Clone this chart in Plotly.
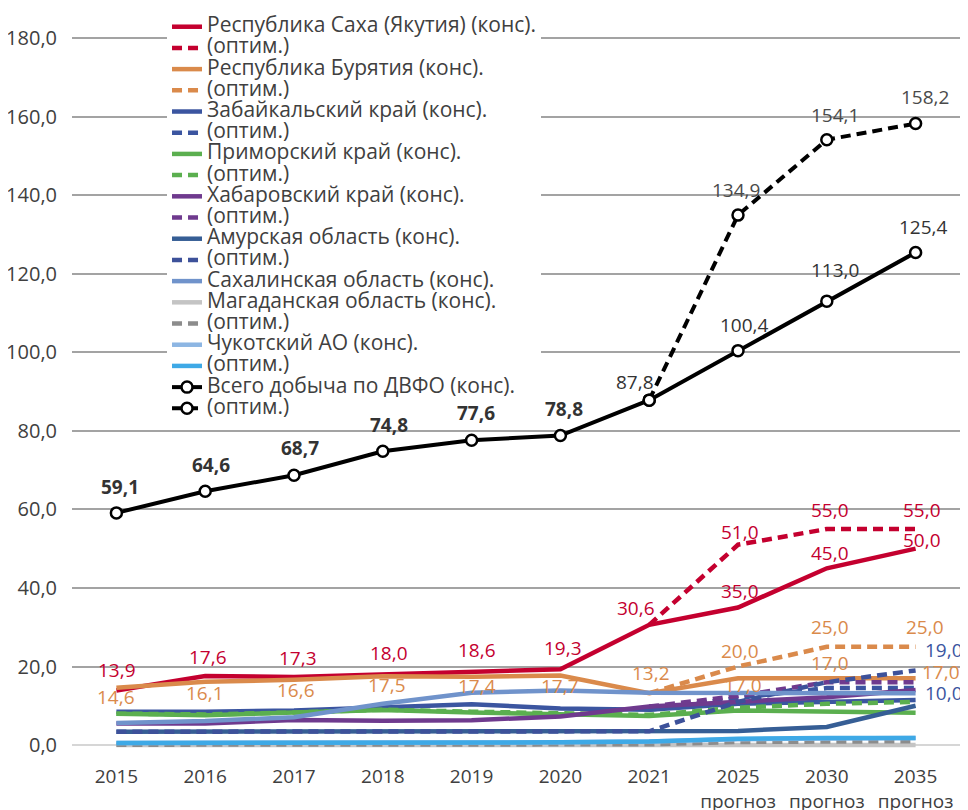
import plotly.graph_objects as go

years = ["2015", "2016", "2017", "2018", "2019", "2020", "2021", "2025", "2030", "2035"]
year_ticks = ["2015", "2016", "2017", "2018", "2019", "2020", "2021",
              "2025<br>прогноз", "2030<br>прогноз", "2035<br>прогноз"]
y_ticks = [0, 20, 40, 60, 80, 100, 120, 140, 160, 180]
y_ticktext = ["0,0", "20,0", "40,0", "60,0", "80,0", "100,0", "120,0", "140,0", "160,0", "180,0"]

N = None
sakha_cons = [13.9, 17.6, 17.3, 18.0, 18.6, 19.3, 30.6, 35.0, 45.0, 50.0]
sakha_opt = [N, N, N, N, N, N, 30.6, 51.0, 55.0, 55.0]
buryat_cons = [14.6, 16.1, 16.6, 17.5, 17.4, 17.7, 13.2, 17.0, 17.0, 17.0]
buryat_opt = [N, N, N, N, N, N, 13.2, 20.0, 25.0, 25.0]
zabaik_cons = [8.5, 8.5, 8.8, 9.6, 10.4, 9.3, 9.0, 10.5, 11.0, 11.5]
zabaik_opt = [N, N, N, N, N, N, 9.0, 12.0, 14.5, 14.5]
primor_cons = [8.0, 7.6, 8.3, 8.9, 8.3, 7.8, 7.4, 8.8, 8.5, 8.2]
primor_opt = [8.0, 7.8, 8.3, 9.0, 8.5, 8.0, 7.7, 9.5, 10.5, 11.0]
khab_cons = [5.5, 5.5, 6.4, 6.2, 6.3, 7.3, 9.8, 11.0, 12.2, 14.0]
khab_opt = [N, N, N, N, N, N, 9.8, 12.5, 16.0, 16.0]
amur_cons = [3.4, 3.4, 3.4, 3.4, 3.4, 3.4, 3.5, 3.6, 4.6, 10.0]
amur_opt = [3.4, 3.4, 3.4, 3.4, 3.4, 3.4, 3.5, 11.0, 16.0, 19.0]
sakhalin_cons = [5.6, 6.1, 7.1, 10.5, 13.3, 13.9, 13.3, 13.2, 13.2, 13.2]
magadan_cons = [0.0, 0.0, 0.0, 0.0, 0.0, 0.0, 0.0, 0.0, 0.0, 0.0]
magadan_opt = [0.1, 0.1, 0.1, 0.1, 0.1, 0.1, 0.2, 0.8, 1.0, 1.0]
chukot_cons = [0.5, 0.5, 0.5, 0.5, 0.6, 0.7, 0.9, 1.5, 1.7, 1.8]
chukot_opt = [0.5, 0.5, 0.5, 0.5, 0.6, 0.7, 0.9, 1.6, 1.8, 1.8]
total_cons = [59.1, 64.6, 68.7, 74.8, 77.6, 78.8, 87.8, 100.4, 113.0, 125.4]
total_opt = [N, N, N, N, N, N, 87.8, 134.9, 154.1, 158.2]

C_RED = "#C4002F"
C_ORANGE = "#DA8A4B"
C_BLUE = "#3B55A0"
C_GREEN = "#5BAF4F"
C_PURPLE = "#6F3A8E"
C_AMUR = "#365E95"
C_AMUR_OPT = "#3D519A"
C_SAKHALIN = "#7093CB"
C_MAG = "#C4C4C4"
C_MAG_OPT = "#8C8C8C"
C_CHUK = "#8DB6E3"
C_CHUK_OPT = "#3EA9E6"
TXT = "#404040"
FONT = "Open Sans, Noto Sans, sans-serif"

OPT = "(оптим.)"
series = [
    ("Республика Саха (Якутия) (конс).", sakha_cons, C_RED, "solid"),
    (OPT, sakha_opt, C_RED, "dash"),
    ("Республика Бурятия (конс).", buryat_cons, C_ORANGE, "solid"),
    (OPT, buryat_opt, C_ORANGE, "dash"),
    ("Забайкальский край (конс).", zabaik_cons, C_BLUE, "solid"),
    (OPT, zabaik_opt, C_BLUE, "dash"),
    ("Приморский край (конс).", primor_cons, C_GREEN, "solid"),
    (OPT, primor_opt, C_GREEN, "dash"),
    ("Хабаровский край (конс).", khab_cons, C_PURPLE, "solid"),
    (OPT, khab_opt, C_PURPLE, "dash"),
    ("Амурская область (конс).", amur_cons, C_AMUR, "solid"),
    (OPT, amur_opt, C_AMUR_OPT, "dash"),
    ("Сахалинская область (конс).", sakhalin_cons, C_SAKHALIN, "solid"),
    ("Магаданская область (конс).", magadan_cons, C_MAG, "solid"),
    (OPT, magadan_opt, C_MAG_OPT, "dash"),
    ("Чукотский АО (конс).", chukot_cons, C_CHUK, "solid"),
    (OPT, chukot_opt, C_CHUK_OPT, "solid"),
]

LEG_SPAN = "<span style='font-size:21px'>{}</span>"

fig = go.Figure()
for name, vals, col, dash in series:
    fig.add_trace(go.Scatter(
        x=years, y=vals, mode="lines", name=LEG_SPAN.format(name),
        line=dict(color=col, width=4.5, dash=dash if dash == "solid" else "10px,6px"),
        connectgaps=False, hoverinfo="skip"))

for name, vals, dash in [("Всего добыча по ДВФО (конс).", total_cons, "solid"),
                         (OPT, total_opt, "10px,6px")]:
    fig.add_trace(go.Scatter(
        x=years, y=vals, mode="lines+markers", name=LEG_SPAN.format(name),
        line=dict(color="black", width=4, dash=dash),
        marker=dict(symbol="circle", size=11, color="white",
                    line=dict(color="black", width=2.5)),
        connectgaps=False, hoverinfo="skip"))


def fmt(v):
    return f"{v:.1f}".replace(".", ",")


annotations = []


def add_labels(vals, idxs, offsets, color, bold_idx=()):
    for i, (dx, dy) in zip(idxs, offsets):
        t = fmt(vals[i])
        if i in bold_idx:
            t = "<b>" + t + "</b>"
        annotations.append(dict(
            x=i, y=vals[i], xref="x", yref="y", text=t, showarrow=False,
            xshift=dx, yshift=dy, font=dict(family=FONT, size=19, color=color)))


add_labels(total_cons, list(range(10)),
           [(4, 26), (6, 26), (6, 27), (6, 26), (4, 27), (4, 27), (-14, 18), (6, 26), (8, 31), (8, 25)],
           "#333333", bold_idx=list(range(6)))
add_labels(total_opt, [7, 8, 9], [(-2, 25), (8, 25), (9, 27)], "#4A4A4A")
add_labels(sakha_cons, list(range(10)),
           [(1, 20), (3, 19), (4, 19), (6, 21), (5, 22), (3, 21), (-13, 17), (2, 17), (3, 15), (6, 9)],
           C_RED)
add_labels(sakha_opt, [7, 8, 9], [(2, 13), (3, 19), (6, 19)], C_RED)
add_labels(buryat_cons, list(range(10)),
           [(0, -9), (0, -11), (2, -10), (4, -9), (5, -9), (0, -10), (2, 20), (5, -7), (3, 15), (25, 6)],
           C_ORANGE)
add_labels(buryat_opt, [7, 8, 9], [(2, 16), (3, 20), (9, 20)], C_ORANGE)
add_labels(amur_opt, [9], [(28, 20)], C_BLUE)
add_labels(amur_cons, [9], [(28, 13)], C_BLUE)

fig.update_layout(
    width=968, height=810,
    margin=dict(l=64, r=16, t=26, b=69, autoexpand=False),
    paper_bgcolor="white", plot_bgcolor="white",
    font=dict(family=FONT, size=19, color=TXT),
    showlegend=True,
    legend=dict(x=0.107, y=1.032, xanchor="left", yanchor="top",
                bgcolor="white", borderwidth=0, maxheight=800,
                font=dict(family=FONT, size=14, color=TXT),
                tracegroupgap=0),
    annotations=annotations,
    xaxis=dict(type="category", range=[-0.5, 9.5], showgrid=False, showline=False,
               zeroline=False, ticks="", tickmode="array", tickvals=years,
               ticktext=year_ticks, ticklabelstandoff=14,
               tickfont=dict(size=19, color=TXT)),
    yaxis=dict(range=[-1, 181], tickmode="array", tickvals=y_ticks, ticktext=y_ticktext,
               showgrid=True, gridcolor="#A3A3A3", gridwidth=2,
               zeroline=True, zerolinecolor="#D6D6D6", zerolinewidth=2,
               showline=False, ticks="", ticklabelstandoff=14,
               tickfont=dict(size=20, color=TXT)),
)

fig.write_html("out.html")
